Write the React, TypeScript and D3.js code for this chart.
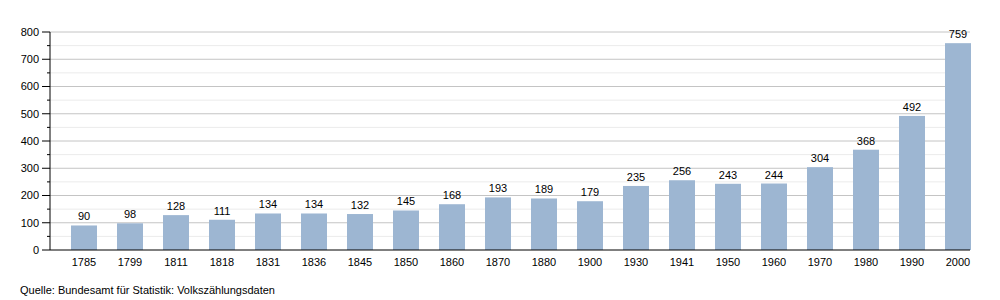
import React from "react";
import * as d3 from "d3";

const years = ["1785","1799","1811","1818","1831","1836","1845","1850","1860","1870","1880","1900","1930","1941","1950","1960","1970","1980","1990","2000"];
const population = [90,98,128,111,134,134,132,145,168,193,189,179,235,256,243,244,304,368,492,759];
const yTicks = [0,100,200,300,400,500,600,700,800];
const yMinorTicks = [50,150,250,350,450,550,650,750];
const sourceText = "Quelle: Bundesamt für Statistik: Volkszählungsdaten";

export default function App() {
  const W = 1000, H = 300;
  const axisX = 50;
  const x = d3.scaleBand<string>().domain(years).range([61, 981]).paddingInner(20 / 46).paddingOuter(10 / 46);
  const y = d3.scaleLinear().domain([0, 800]).range([250, 32]);
  const font = "Liberation Sans, Arial, sans-serif";
  const bw = x.bandwidth();
  return (
    <svg width={W} height={H} style={{ position: "absolute", left: 0, top: 0 }} fontFamily={font}>
      {yMinorTicks.map(t => (
        <g key={"m" + t}>
          <line x1={axisX} x2={970} y1={y(t)} y2={y(t)} stroke="#ebebeb" strokeWidth={1} />
          <line x1={axisX - 3} x2={axisX} y1={y(t)} y2={y(t)} stroke="#000" strokeWidth={1} />
        </g>
      ))}
      {yTicks.map(t => (
        <g key={"t" + t}>
          {t > 0 && <line x1={axisX} x2={970} y1={y(t)} y2={y(t)} stroke="#c4c4c4" strokeWidth={1} />}
          <line x1={axisX - 8} x2={axisX} y1={y(t)} y2={y(t)} stroke="#000" strokeWidth={1} />
          <text x={39} y={y(t)} dy="0.35em" textAnchor="end" fontSize={11} fill="#000">{t}</text>
        </g>
      ))}
      {years.map((yr, i) => (
        <g key={yr}>
          <rect x={x(yr)} y={y(population[i])} width={bw} height={y(0) - y(population[i])} fill="#9db6d2" />
          <text x={(x(yr) as number) + bw / 2} y={y(population[i]) - 5} textAnchor="middle" fontSize={11} fill="#000">{population[i]}</text>
          <text x={(x(yr) as number) + bw / 2} y={262} dy="0.35em" textAnchor="middle" fontSize={11} fill="#000">{yr}</text>
        </g>
      ))}
      <line x1={axisX} x2={axisX} y1={y(800)} y2={y(0)} stroke="#000" strokeWidth={1} />
      <line x1={axisX} x2={970} y1={y(0)} y2={y(0)} stroke="#000" strokeWidth={1} />
      <text x={20} y={290} dy="0.35em" fontSize={11} fill="#000">{sourceText}</text>
    </svg>
  );
}
